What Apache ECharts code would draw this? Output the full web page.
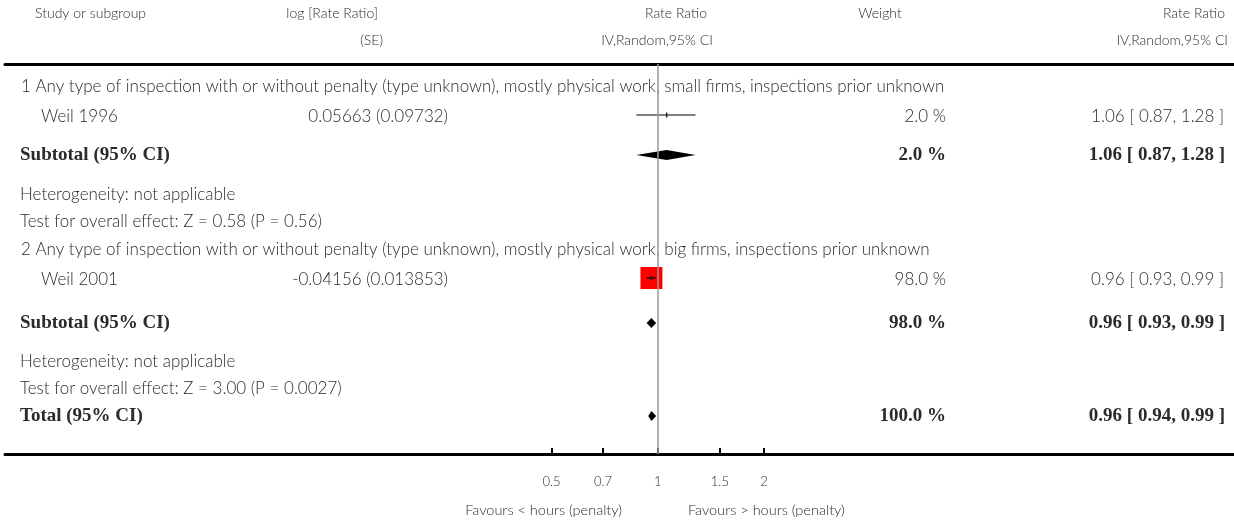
<!DOCTYPE html>
<html lang="en">

<head>
  <meta charset="UTF-8">
  <title>Forest plot</title>
  <script src="https://cdn.jsdelivr.net/npm/echarts@6/dist/echarts.min.js"></script>
  <style>
    body { margin: 0; background: #fff; }
  </style>
</head>

<body>
  <div id="chart" style="width: 1234px;height: 523px;"></div>
  <script>
    const myChart = echarts.init(document.getElementById('chart'))

    // data
    const groupTitles = [
      '1 Any type of inspection with or without penalty (type unknown), mostly physical work, small firms, inspections prior unknown',
      '2 Any type of inspection with or without penalty (type unknown), mostly physical work, big firms, inspections prior unknown'
    ]
    const studyNames = ['Weil 1996', 'Weil 2001']
    const logRateRatio = ['0.05663', '-0.04156']
    const logSE = ['0.09732', '0.013853']
    const studyRR = [1.06, 0.96]
    const studyLow = [0.87, 0.93]
    const studyHigh = [1.28, 0.99]
    const studyWeight = [2.0, 98.0]
    const subRR = [1.06, 0.96]
    const subLow = [0.87, 0.93]
    const subHigh = [1.28, 0.99]
    const subWeight = [2.0, 98.0]
    const hetText = ['Heterogeneity: not applicable', 'Heterogeneity: not applicable']
    const testText = ['Test for overall effect: Z = 0.58 (P = 0.56)', 'Test for overall effect: Z = 3.00 (P = 0.0027)']
    const totalRR = 0.96
    const totalLow = 0.94
    const totalHigh = 0.99
    const totalWeight = 100.0
    const tickValues = [0.5, 0.7, 1, 1.5, 2]

    // layout (pixels)
    const gridLeft = 5, gridTop = 64, gridBottom = 69
    const oneX = 657.7        // where rate ratio 1 sits
    const pxPerDecade = 353
    const rowOffsets = [23, 51, 91, 131, 158, 186, 214, 259, 298, 325, 352]

    const sans = '"Lato", "Open Sans", sans-serif'
    const serif = '"Liberation Serif", "DejaVu Serif", serif'
    const textColor = '#2b2b2b'

    const fmtCI = (m, l, h) => `${m.toFixed(2)} [ ${l.toFixed(2)}, ${h.toFixed(2)} ]`
    const fmtW = w => `${w.toFixed(1)} %`
    const lg = Math.log10

    // table rows
    const rows = []
    for (let g = 0; g < 2; g++) {
      rows.push({ kind: 'group', text: groupTitles[g] })
      rows.push({ kind: 'study', name: studyNames[g], est: `${logRateRatio[g]} (${logSE[g]})`, w: fmtW(studyWeight[g]), ci: fmtCI(studyRR[g], studyLow[g], studyHigh[g]) })
      rows.push({ kind: 'sub', name: 'Subtotal (95% CI)', w: fmtW(subWeight[g]), ci: fmtCI(subRR[g], subLow[g], subHigh[g]) })
      rows.push({ kind: 'note', text: hetText[g] })
      rows.push({ kind: 'note', text: testText[g] })
    }
    rows.push({ kind: 'sub', name: 'Total (95% CI)', w: fmtW(totalWeight), ci: fmtCI(totalRR, totalLow, totalHigh) })

    const studyRows = [1, 6]
    const diamondRows = [2, 7, 10]

    const studyData = studyNames.map((n, i) => [lg(studyLow[i]), rowOffsets[studyRows[i]], lg(studyHigh[i]), lg(studyRR[i]), studyWeight[i]])
    const diamondData = [
      [lg(subLow[0]), rowOffsets[diamondRows[0]], lg(subHigh[0]), lg(subRR[0])],
      [lg(subLow[1]), rowOffsets[diamondRows[1]], lg(subHigh[1]), lg(subRR[1])],
      [lg(totalLow), rowOffsets[diamondRows[2]], lg(totalHigh), lg(totalRR)]
    ]

    function txt(x, y, text, font, align) {
      return { type: 'text', x: x, y: y, style: { text: text, font: font, fill: textColor, align: align, verticalAlign: 'middle' } }
    }

    const fHead = `300 14px ${sans}`
    const fNormal = `300 17px ${sans}`
    const fBold = `bold 19px ${serif}`

    function renderRow(params, api) {
      const r = rows[api.value(2)]
      const y = api.coord([0, api.value(1)])[1]
      const c = []
      if (r.kind === 'group') {
        c.push(txt(21, y, r.text, fNormal, 'left'))
      } else if (r.kind === 'note') {
        c.push(txt(20, y, r.text, fNormal, 'left'))
      } else if (r.kind === 'study') {
        c.push(txt(41, y + 2, r.name, fNormal, 'left'))
        c.push(txt(448, y + 2, r.est, fNormal, 'right'))
        c.push(txt(946, y + 2, r.w, fNormal, 'right'))
        c.push(txt(1224, y + 2, r.ci, fNormal, 'right'))
      } else {
        c.push(txt(20, y, r.name, fBold, 'left'))
        c.push(txt(946, y, r.w, fBold, 'right'))
        c.push(txt(1225, y, r.ci, fBold, 'right'))
      }
      return { type: 'group', children: c }
    }

    function renderStudy(params, api) {
      const y = api.coord([0, api.value(1)])[1]
      const xl = api.coord([api.value(0), 0])[0]
      const xh = api.coord([api.value(2), 0])[0]
      const xm = api.coord([api.value(3), 0])[0]
      const size = Math.sqrt(api.value(4)) * 2.22
      const c = []
      if (size > 5) {
        c.push({ type: 'rect', shape: { x: xm - size / 2, y: y - size / 2, width: size, height: size }, style: { fill: '#ff0000' } })
      }
      c.push({ type: 'line', shape: { x1: xl, y1: y, x2: xh, y2: y }, style: { stroke: '#000', lineWidth: 1.2 } })
      c.push({ type: 'line', shape: { x1: xm, y1: y - 2.5, x2: xm, y2: y + 2.5 }, style: { stroke: '#222', lineWidth: 1.5 } })
      return { type: 'group', children: c }
    }

    function renderDiamond(params, api) {
      const y = api.coord([0, api.value(1)])[1]
      const xl = api.coord([api.value(0), 0])[0]
      const xh = api.coord([api.value(2), 0])[0]
      const xm = api.coord([api.value(3), 0])[0]
      const h = 5
      return {
        type: 'polygon',
        shape: { points: [[xl, y], [xm, y - h], [xh, y], [xm, y + h]] },
        style: { fill: '#000' }
      }
    }

    const plotWidth = 1234 - gridLeft
    const xMin = -(oneX - gridLeft) / pxPerDecade
    const xMax = (plotWidth - (oneX - gridLeft)) / pxPerDecade
    const tickLogs = tickValues.map(lg)

    const option = {
      animation: false,
      grid: { left: gridLeft, right: 0, top: gridTop, bottom: gridBottom, containLabel: false },
      xAxis: [
        {
          type: 'value',
          min: xMin,
          max: xMax,
          position: 'bottom',
          splitLine: { show: false },
          axisLine: { show: true, onZero: false, lineStyle: { color: '#000', width: 3 } },
          axisTick: { show: true, inside: true, length: 6, customValues: tickLogs, lineStyle: { color: '#000', width: 2 } },
          axisLabel: {
            show: true,
            customValues: tickLogs,
            margin: 21,
            fontFamily: sans,
            fontWeight: 300,
            fontSize: 13,
            color: textColor,
            formatter: v => String(Number(Math.pow(10, v).toPrecision(2)))
          }
        },
        {
          type: 'value',
          min: xMin,
          max: xMax,
          position: 'top',
          splitLine: { show: false },
          axisLine: { show: true, onZero: false, lineStyle: { color: '#000', width: 3 } },
          axisTick: { show: false },
          axisLabel: { show: false }
        }
      ],
      yAxis: {
        type: 'value',
        inverse: true,
        min: 0,
        max: 523 - gridTop - gridBottom,
        show: false
      },
      graphic: [
        txt(35, 13, 'Study or subgroup', fHead, 'left'),
        txt(378, 13, 'log [Rate Ratio]', fHead, 'right'),
        txt(383, 40, '(SE)', fHead, 'right'),
        txt(676, 13, 'Rate Ratio', fHead, 'center'),
        txt(657, 40, 'IV,Random,95% CI', fHead, 'center'),
        txt(880, 13, 'Weight', fHead, 'center'),
        txt(1225, 13, 'Rate Ratio', fHead, 'right'),
        txt(1228, 40, 'IV,Random,95% CI', fHead, 'right'),
        txt(622, 510, 'Favours < hours (penalty)', `300 14.5px ${sans}`, 'right'),
        txt(688, 510, 'Favours > hours (penalty)', `300 14.5px ${sans}`, 'left')
      ],
      series: [
        {
          type: 'custom',
          name: 'rows',
          silent: true,
          renderItem: renderRow,
          data: rows.map((r, i) => [0, rowOffsets[i], i]),
          markLine: {
            silent: true,
            symbol: ['none', 'none'],
            label: { show: false },
            lineStyle: { color: '#999', width: 1.5, type: 'solid' },
            data: [{ xAxis: 0 }]
          },
          z: 1
        },
        {
          type: 'custom',
          name: 'studies',
          silent: true,
          renderItem: renderStudy,
          data: studyData,
          z: 3
        },
        {
          type: 'custom',
          name: 'diamonds',
          silent: true,
          renderItem: renderDiamond,
          data: diamondData,
          z: 3
        }
      ]
    }

    myChart.setOption(option)
  </script>
</body>

</html>
